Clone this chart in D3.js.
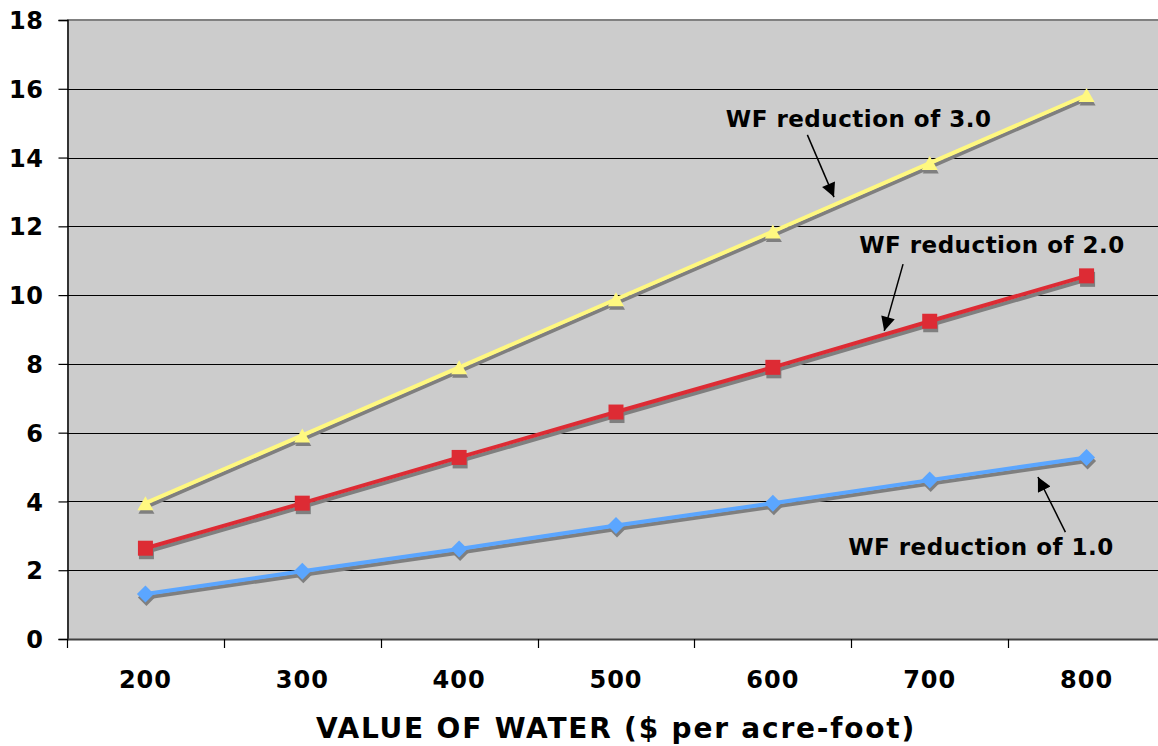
<!DOCTYPE html>
<html>
<head>
<meta charset="utf-8">
<script src="https://cdn.jsdelivr.net/npm/d3@7"></script>
<style>
  body { margin: 0; background: #fff; }
  svg { display: block; }
</style>
</head>
<body>
<script>
//Chart values
var categories = ["200", "300", "400", "500", "600", "700", "800"];
var wf1 = [1.31, 1.97, 2.62, 3.30, 3.95, 4.62, 5.28];
var wf2 = [2.64, 3.95, 5.28, 6.60, 7.90, 9.24, 10.56];
var wf3 = [3.95, 5.92, 7.90, 9.88, 11.85, 13.84, 15.82];
var yTicks = [0, 2, 4, 6, 8, 10, 12, 14, 16, 18];
var xTitle = "VALUE OF WATER ($ per acre-foot)";

//Annotation texts and their arrows, in (category index, value) units
var annotations = [
  {text: "WF reduction of 3.0", tx: 3.70, ty: 14.89, from: [4.22, 14.66], to: [4.39, 12.85]},
  {text: "WF reduction of 2.0", tx: 4.55, ty: 11.22, from: [4.83, 10.90], to: [4.71, 8.96]},
  {text: "WF reduction of 1.0", tx: 4.48, ty: 2.44, from: [5.865, 3.11], to: [5.69, 4.71]}
];

var svgwidth = 1158,
    svgheight = 746,
    margin = {top: 20, left: 67},
    plotW = 1098,
    plotH = 619;

var svg = d3.select("body").append("svg")
    .attr("width", svgwidth)
    .attr("height", svgheight);

//Scales
var x = d3.scaleBand().domain(categories).range([margin.left, margin.left + plotW]),
    y = d3.scaleLinear().domain([0, 18]).range([margin.top + plotH, margin.top]);
var bw = x.bandwidth();
//continuous index scale so annotations can sit between categories
var xi = d3.scaleLinear().domain([0, 1]).range([x(categories[0]) + bw / 2, x(categories[1]) + bw / 2]);

//Plot background
svg.append("rect")
    .attr("x", margin.left)
    .attr("y", margin.top)
    .attr("width", plotW)
    .attr("height", plotH)
    .attr("fill", "#cccccc");

//Gridlines
svg.append("g")
  .selectAll("line")
  .data(yTicks.filter(function(d) { return d > 0 && d < 18; }))
  .enter().append("line")
    .attr("x1", margin.left)
    .attr("x2", margin.left + plotW)
    .attr("y1", function(d) { return Math.round(y(d)) + 0.5; })
    .attr("y2", function(d) { return Math.round(y(d)) + 0.5; })
    .attr("stroke", "#000")
    .attr("stroke-width", 1);

//Top border of the plot
svg.append("line")
    .attr("x1", margin.left).attr("x2", margin.left + plotW)
    .attr("y1", y(18)).attr("y2", y(18))
    .attr("stroke", "#808080")
    .attr("stroke-width", 2);

//Y axis
var yAxis = svg.append("g")
    .attr("transform", "translate(" + (margin.left + 0.5) + ",0)")
    .call(d3.axisLeft(y).tickValues(yTicks).tickSize(9).tickPadding(15).tickFormat(d3.format("d")));
yAxis.select(".domain").attr("stroke", "#000").attr("stroke-width", 1.5);
yAxis.selectAll(".tick line").attr("stroke", "#000").attr("stroke-width", 1.2);
yAxis.selectAll("text")
    .attr("font-family", "DejaVu Sans")
    .attr("font-weight", "bold")
    .attr("font-size", 24)
    .attr("letter-spacing", 0.5)
    .attr("fill", "#000")
    .attr("dy", "0.36em");

//X axis: labels at band centres, ticks at band edges
var xAxis = svg.append("g")
    .attr("transform", "translate(0," + (margin.top + plotH) + ")")
    .call(d3.axisBottom(x).tickSize(0).tickPadding(0));
xAxis.select(".domain").attr("stroke", "#404040").attr("stroke-width", 2);
xAxis.selectAll("text")
    .attr("font-family", "DejaVu Sans")
    .attr("font-weight", "bold")
    .attr("font-size", 24)
    .attr("letter-spacing", 1)
    .attr("fill", "#000")
    .attr("y", 49)
    .attr("dy", 0);

xAxis.selectAll(".edge")
  .data(categories)
  .enter().append("line")
    .attr("class", "edge")
    .attr("x1", function(d) { return Math.round(x(d)) + 0.5; })
    .attr("x2", function(d) { return Math.round(x(d)) + 0.5; })
    .attr("y1", 0)
    .attr("y2", 9)
    .attr("stroke", "#000")
    .attr("stroke-width", 1.2);

//X axis title
svg.append("text")
    .attr("x", margin.left + plotW / 2)
    .attr("y", 738)
    .attr("text-anchor", "middle")
    .attr("font-family", "DejaVu Sans")
    .attr("font-weight", "bold")
    .attr("font-size", 28)
    .attr("letter-spacing", 1.8)
    .attr("fill", "#000")
    .text(xTitle);

//Marker shapes
function markerPath(shape) {
  if (shape == "triangle") return "M0,-7L8,7L-8,7Z";
  if (shape == "square") return "M-7.5,-7.5H7.5V7.5H-7.5Z";
  return "M0,-8.5L8.5,0L0,8.5L-8.5,0Z";
}

var series = [
  {values: wf1, color: "#5ba6ff", shape: "diamond"},
  {values: wf2, color: "#dd2b34", shape: "square"},
  {values: wf3, color: "#fff880", shape: "triangle"}
];

var line = d3.line()
    .x(function(d, i) { return x(categories[i]) + bw / 2; })
    .y(function(d) { return y(d); });

//Shadows first, then the coloured lines and markers
var shadow = svg.append("g").attr("transform", "translate(1,3.5)");
var front = svg.append("g");

series.forEach(function(s) {
  shadow.append("path")
      .attr("d", line(s.values))
      .attr("fill", "none")
      .attr("stroke", "#7f7f7f")
      .attr("stroke-width", 4);
  shadow.selectAll(null)
    .data(s.values)
    .enter().append("path")
      .attr("d", markerPath(s.shape))
      .attr("transform", function(d, i) { return "translate(" + (x(categories[i]) + bw / 2) + "," + y(d) + ")"; })
      .attr("fill", "#7f7f7f");
});

series.forEach(function(s) {
  front.append("path")
      .attr("d", line(s.values))
      .attr("fill", "none")
      .attr("stroke", s.color)
      .attr("stroke-width", 4);
  front.selectAll(null)
    .data(s.values)
    .enter().append("path")
      .attr("d", markerPath(s.shape))
      .attr("transform", function(d, i) { return "translate(" + (x(categories[i]) + bw / 2) + "," + y(d) + ")"; })
      .attr("fill", s.color);
});

//Arrowhead
svg.append("defs").append("marker")
    .attr("id", "arrow")
    .attr("viewBox", "0 0 10 10")
    .attr("refX", 10)
    .attr("refY", 5)
    .attr("markerUnits", "userSpaceOnUse")
    .attr("markerWidth", 15)
    .attr("markerHeight", 14)
    .attr("orient", "auto")
  .append("path")
    .attr("d", "M0,0L10,5L0,10Z")
    .attr("fill", "#000");

//Annotations
var ann = svg.append("g");
ann.selectAll("text")
  .data(annotations)
  .enter().append("text")
    .attr("x", function(d) { return xi(d.tx); })
    .attr("y", function(d) { return y(d.ty); })
    .attr("font-family", "DejaVu Sans")
    .attr("font-weight", "bold")
    .attr("font-size", 23)
    .attr("letter-spacing", 0.5)
    .attr("fill", "#000")
    .text(function(d) { return d.text; });

ann.selectAll("line")
  .data(annotations)
  .enter().append("line")
    .attr("x1", function(d) { return xi(d.from[0]); })
    .attr("y1", function(d) { return y(d.from[1]); })
    .attr("x2", function(d) { return xi(d.to[0]); })
    .attr("y2", function(d) { return y(d.to[1]); })
    .attr("stroke", "#000")
    .attr("stroke-width", 1.5)
    .attr("marker-end", "url(#arrow)");
</script>
</body>
</html>
